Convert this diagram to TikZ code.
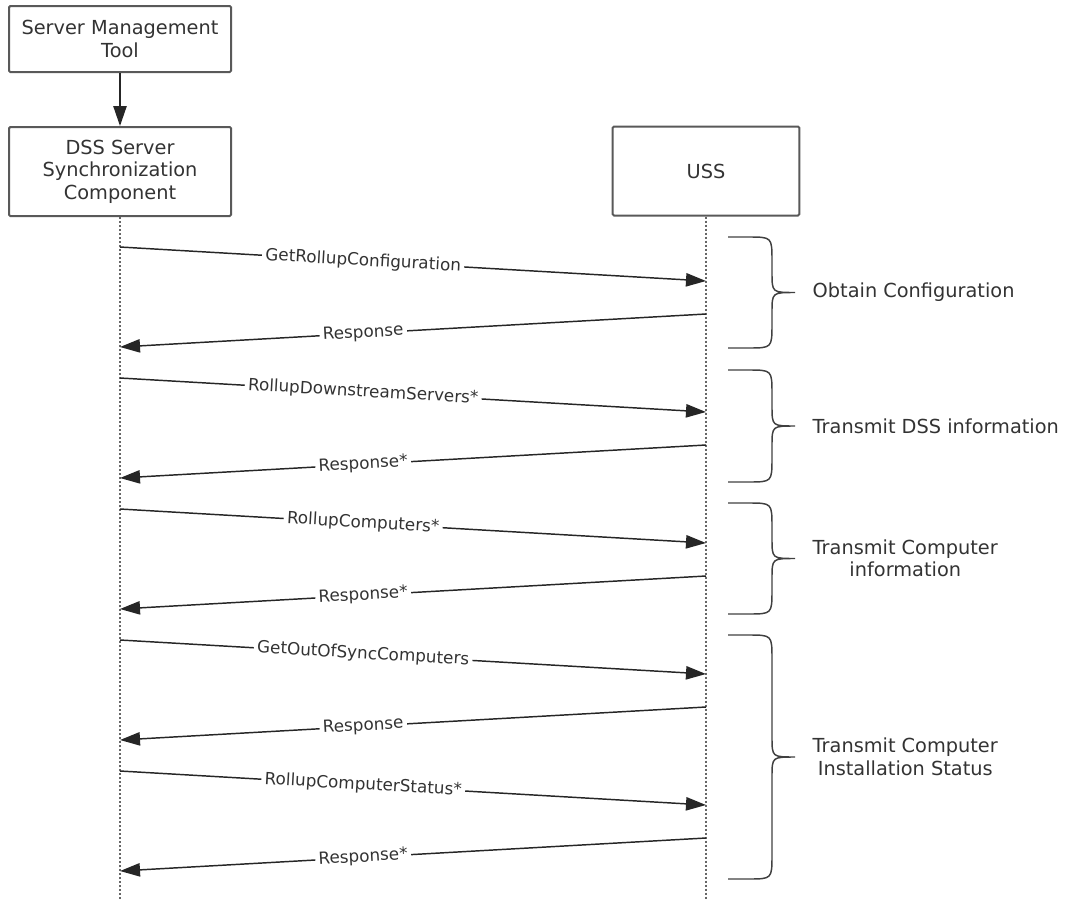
\documentclass[tikz,border=0pt]{standalone}
\usepackage{fontspec}
\setmainfont{DejaVu Sans}
\usetikzlibrary{arrows.meta}

\begin{document}
\begin{tikzpicture}[x=0.75pt, y=-0.75pt,
    box/.style={draw=black!65, line width=1.5pt, rounded corners=1pt, fill=white, text=black!80, align=center, font=\fontsize{14.5}{16.9}\selectfont},
    life/.style={line width=1.7pt, dash pattern=on 1.5pt off 1.5pt, black!60},
    msg/.style={->, >={Triangle[length=15pt,width=10pt]}, line width=1.1pt, black!85},
    lbl/.style={fill=white, inner sep=2.5pt, sloped, text=black!80, font=\fontsize{12.6}{15}\selectfont},
    grp/.style={line width=1.1pt, black!75},
    grplbl/.style={anchor=west, align=center, text=black!80, font=\fontsize{14.5}{16.9}\selectfont}]
  \useasboundingbox (0,0) rectangle (1065,900);

  \node[box, minimum width=166.5pt, minimum height=49.5pt] (smt) at (120,39) {Server Management\\Tool};
  \node[box, minimum width=166.5pt, minimum height=66.75pt] (dss) at (120,171.5) {DSS Server\\Synchronization\\Component};
  \node[box, minimum width=140pt, minimum height=66.75pt] (uss) at (706,171) {USS};
  \draw[msg] (smt) -- (dss);

  % lifelines
  \coordinate (dssend) at (120,900);
  \coordinate (ussend) at (706,900);
  \draw[life] (dss.south) -- (dssend);
  \draw[life] (uss.south) -- (ussend);

  % requests
  \foreach \y/\txt [count=\i] in {247/GetRollupConfiguration, 378/RollupDownstreamServers*, 509/RollupComputers*, 640/GetOutOfSyncComputers, 771/RollupComputerStatus*} {
    \coordinate (qa\i) at (dss.south |- 0,\y);
    \coordinate (qb\i) at (uss.south |- 0,\y+34);
    \draw[msg] (qa\i) -- node[lbl, pos=0.415] (q\i) {\txt} (qb\i);
  }
  % responses
  \foreach \y/\txt [count=\i] in {314/Response, 445/Response*, 576/Response*, 707/Response, 838/Response*} {
    \coordinate (ra\i) at (uss.south |- 0,\y);
    \coordinate (rb\i) at (dss.south |- 0,\y+33);
    \draw[msg] (ra\i) -- node[lbl, pos=0.585] (r\i) {\txt} (rb\i);
  }

  % braces
  \foreach \ya/\yb/\txt [count=\i] in {237/348/Obtain Configuration, 370/482/Transmit DSS information, 503/614/{Transmit Computer\\information}, 635/879/{Transmit Computer\\Installation Status}} {
    \pgfmathsetmacro\ym{(\ya+\yb)/2}
    \draw[grp] (728,\ya) -- (748,\ya) .. controls (772,\ya) .. (772,\ya+24) -- (772,\ym-20) .. controls (772,\ym) .. (795,\ym)
      .. controls (772,\ym) .. (772,\ym+20) -- (772,\yb-24) .. controls (772,\yb) .. (748,\yb) -- (728,\yb);
    \node[grplbl] (g\i) at (808,\ym) {\txt};
  }
\end{tikzpicture}
\end{document}
